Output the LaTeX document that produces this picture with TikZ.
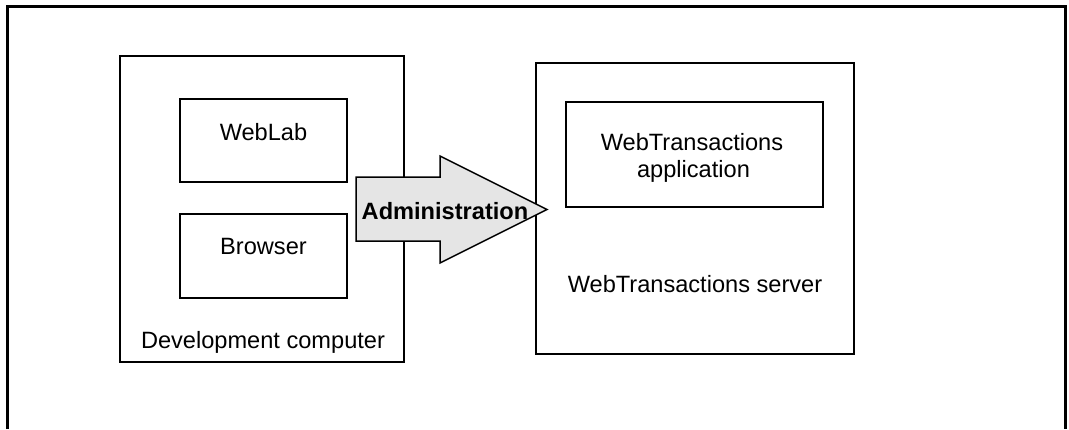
\documentclass[tikz,border=0pt]{standalone}
\usepackage{fontspec}
\setmainfont{Liberation Sans}
\begin{document}
\begin{tikzpicture}[x=1pt,y=-1pt,
  box/.style={draw=black,line width=2.5pt,inner sep=0pt},
  lbl/.style={anchor=base,inner sep=0pt,font=\fontsize{23.6}{28}\selectfont},
  arrowshape/.style={draw=black,line width=1.5pt,fill=black!10,line join=miter}]
\useasboundingbox (0,0) rectangle (1069,429);
% outer frame (bottom edge beyond page)
\draw[line width=3pt] (7,429) -- (7,6) -- (1065,6) -- (1065,429);
% development computer
\node[box,minimum width=284pt,minimum height=306pt] (dev) at (262,209) {};
\node[box,minimum width=167pt,minimum height=83pt] (weblab) at (263.5,140.5) {};
\node[box,minimum width=167pt,minimum height=84pt] (browser) at (263.5,256) {};
\node[lbl] (weblabt) at (263.5,140) {WebLab};
\node[lbl] (browsert) at (263.5,254) {Browser};
\node[lbl] (devt) at (263,348) {Development computer};
% server
\node[box,minimum width=318pt,minimum height=291pt] (srv) at (695,208.5) {};
\node[box,minimum width=257pt,minimum height=105pt] (app) at (694.5,154.5) {};
\node[lbl] (appt1) at (692,150) {WebTransactions};
\node[lbl] (appt2) at (693.5,177) {application};
\node[lbl] (srvt) at (695,292) {WebTransactions server};
% administration arrow
\draw[arrowshape] (356,177) -- (440,177) -- (440,156) -- (547,209.5) -- (440,263) -- (440,241) -- (356,241) -- cycle;
\node[lbl,font=\fontsize{23.6}{28}\selectfont\bfseries] (admin) at (445,219) {Administration};
\end{tikzpicture}
\end{document}
